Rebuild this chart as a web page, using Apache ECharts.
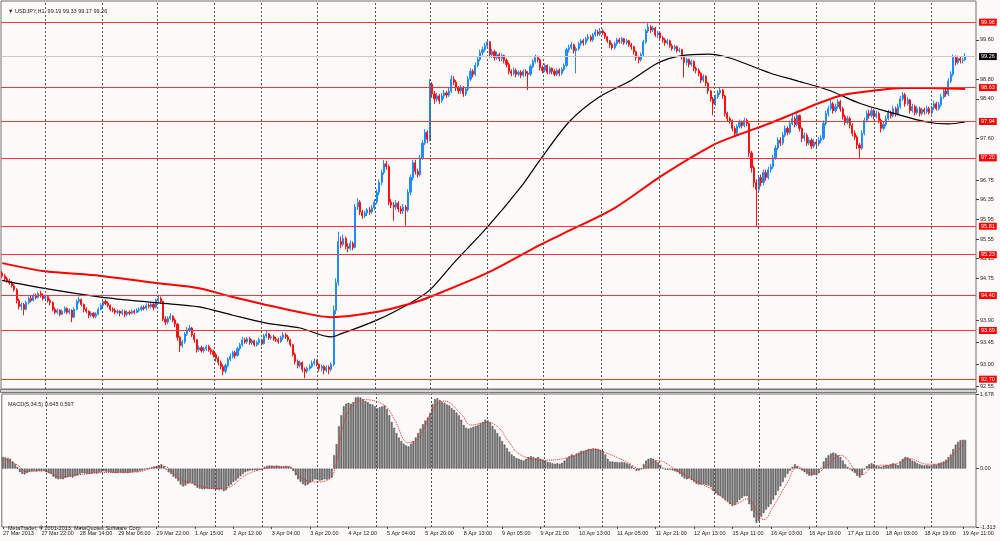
<!DOCTYPE html>
<html lang="en">
<head>
<meta charset="UTF-8">
<title>USDJPY,H1</title>
<style>
  html, body { margin: 0; padding: 0; background: #fffafa; }
  #chart { width: 1000px; height: 541px; }
</style>
</head>
<body>
<div id="chart"></div>
<script src="https://cdn.jsdelivr.net/npm/echarts@6/dist/echarts.min.js"></script>
<script>
// time labels on the bottom axis, one every 16 hourly bars
var timeLabels = ['27 Mar 2013', '27 Mar 22:00', '28 Mar 14:00', '29 Mar 06:00', '29 Mar 22:00',
  '1 Apr 15:00', '2 Apr 12:00', '3 Apr 04:00', '3 Apr 20:00', '4 Apr 12:00', '5 Apr 04:00',
  '5 Apr 20:00', '8 Apr 13:00', '9 Apr 05:00', '9 Apr 21:00', '10 Apr 13:00', '11 Apr 05:00',
  '11 Apr 21:00', '12 Apr 13:00', '15 Apr 11:00', '16 Apr 03:00', '16 Apr 19:00', '17 Apr 11:00',
  '18 Apr 03:00', '18 Apr 19:00', '19 Apr 11:00'];

// H1 candles: each bar opens where the previous one closed
var firstOpen = 94.86;
var closes = [
  94.80,94.74,94.70,94.66,94.60,94.52,94.30,94.18,94.22,94.12,
  94.26,94.34,94.30,94.40,94.36,94.44,94.40,94.34,94.38,94.30,
  94.26,94.12,94.06,94.10,94.02,94.08,94.14,94.06,94.10,93.96,
  94.12,94.28,94.32,94.22,94.12,94.08,94.00,94.04,93.98,94.02,
  94.12,94.20,94.28,94.24,94.20,94.12,94.10,94.06,94.08,94.04,
  94.08,94.02,94.06,94.04,94.08,94.06,94.10,94.12,94.16,94.14,
  94.20,94.18,94.22,94.16,94.30,94.34,94.28,93.92,93.86,93.94,
  93.98,93.90,93.82,93.55,93.38,93.46,93.62,93.70,93.74,93.60,
  93.50,93.30,93.34,93.28,93.32,93.36,93.30,93.26,93.20,93.12,
  93.04,92.96,92.86,92.98,93.10,93.16,93.24,93.18,93.32,93.40,
  93.50,93.46,93.52,93.44,93.48,93.40,93.44,93.50,93.42,93.58,
  93.62,93.54,93.56,93.52,93.50,93.46,93.54,93.60,93.56,93.50,
  93.40,93.20,93.06,92.98,93.04,92.90,92.86,92.92,92.96,93.02,
  93.06,93.00,92.92,92.96,92.88,92.94,92.90,93.00,94.10,94.66,
  95.50,95.44,95.56,95.40,95.36,95.46,95.38,96.20,96.30,96.10,
  96.02,96.08,96.14,96.10,96.18,96.30,96.50,96.70,96.90,97.08,
  97.02,96.30,96.24,96.20,96.28,96.16,96.12,96.20,96.14,96.50,
  96.80,97.10,96.92,96.86,97.20,97.50,97.72,97.58,98.70,98.50,
  98.40,98.46,98.36,98.46,98.52,98.48,98.56,98.80,98.74,98.62,
  98.56,98.62,98.50,98.60,98.80,98.96,98.90,99.08,99.20,99.34,
  99.40,99.48,99.56,99.30,99.36,99.24,99.30,99.22,99.28,99.18,
  99.10,98.96,98.92,98.98,98.90,98.94,98.88,98.96,98.92,98.90,
  99.06,99.16,99.24,99.20,99.04,98.98,99.08,98.94,99.02,98.96,
  98.90,98.98,98.92,99.00,99.08,99.40,99.44,99.50,99.38,99.42,
  99.52,99.58,99.54,99.62,99.66,99.60,99.70,99.76,99.72,99.78,
  99.74,99.66,99.58,99.50,99.44,99.52,99.60,99.56,99.62,99.54,
  99.58,99.50,99.46,99.36,99.24,99.20,99.30,99.56,99.78,99.86,
  99.80,99.84,99.70,99.74,99.64,99.60,99.54,99.58,99.48,99.42,
  99.46,99.38,99.40,99.26,99.14,99.20,99.10,99.16,99.02,98.98,
  98.92,98.78,98.86,98.72,98.56,98.40,98.30,98.44,98.52,98.58,
  98.46,98.10,98.00,97.96,97.80,97.70,97.84,97.92,97.86,97.96,
  97.90,97.30,97.00,96.70,96.56,96.80,96.70,96.90,96.80,96.96,
  97.02,97.20,97.40,97.56,97.50,97.66,97.80,97.72,97.90,98.00,
  97.88,98.06,97.80,97.60,97.66,97.50,97.56,97.44,97.52,97.48,
  97.56,97.60,97.90,98.10,98.20,98.30,98.16,98.24,98.34,98.20,
  98.04,97.92,98.00,97.86,97.70,97.62,97.46,97.40,97.70,97.96,
  98.10,98.06,98.16,98.04,98.10,97.96,97.80,97.88,98.00,98.12,
  98.06,98.20,98.10,98.24,98.40,98.48,98.30,98.38,98.16,98.24,
  98.12,98.20,98.10,98.18,98.14,98.20,98.12,98.22,98.30,98.20,
  98.28,98.44,98.56,98.50,98.76,98.90,99.24,99.14,99.22,99.18,
  99.19,99.26
];
var highs = [
  94.90,94.84,94.78,94.74,94.70,94.64,94.55,94.34,94.26,94.25,
  94.30,94.38,94.40,94.44,94.44,94.48,94.50,94.44,94.42,94.40,
  94.34,94.28,94.16,94.14,94.12,94.12,94.18,94.16,94.14,94.12,
  94.16,94.32,94.38,94.34,94.24,94.16,94.10,94.08,94.06,94.06,
  94.16,94.24,94.32,94.32,94.28,94.22,94.16,94.14,94.12,94.10,
  94.12,94.10,94.10,94.10,94.12,94.12,94.14,94.16,94.20,94.20,
  94.24,94.24,94.26,94.26,94.34,94.40,94.38,94.30,93.98,93.98,
  94.04,94.00,93.94,93.84,93.58,93.50,93.66,93.76,93.80,93.76,
  93.64,93.52,93.38,93.38,93.36,93.40,93.40,93.34,93.30,93.24,
  93.16,93.08,93.00,93.02,93.14,93.22,93.28,93.28,93.36,93.44,
  93.56,93.54,93.56,93.56,93.52,93.50,93.48,93.54,93.52,93.62,
  93.68,93.64,93.60,93.60,93.56,93.54,93.58,93.66,93.64,93.60,
  93.52,93.42,93.24,93.10,93.08,93.06,92.94,92.96,93.00,93.08,
  93.12,93.10,93.02,93.00,92.98,92.98,92.98,93.04,94.20,94.75,
  95.70,95.60,95.64,95.60,95.46,95.52,95.50,96.26,96.38,96.34,
  96.14,96.12,96.18,96.20,96.24,96.36,96.56,96.76,96.96,97.16,
  97.14,97.06,96.36,96.30,96.34,96.32,96.22,96.26,96.24,96.56,
  96.86,97.16,97.16,96.98,97.26,97.56,97.78,97.76,98.80,98.74,
  98.56,98.52,98.50,98.52,98.58,98.56,98.62,98.88,98.86,98.78,
  98.66,98.68,98.66,98.64,98.86,99.02,99.00,99.14,99.26,99.40,
  99.46,99.54,99.62,99.58,99.42,99.40,99.36,99.34,99.32,99.30,
  99.22,99.14,99.00,99.04,99.02,98.98,98.98,99.00,99.00,98.96,
  99.10,99.20,99.30,99.28,99.22,99.08,99.12,99.10,99.06,99.04,
  99.00,99.02,99.02,99.04,99.12,99.44,99.50,99.56,99.52,99.46,
  99.56,99.62,99.62,99.66,99.72,99.70,99.74,99.82,99.80,99.84,
  99.82,99.76,99.68,99.60,99.54,99.56,99.64,99.64,99.66,99.64,
  99.62,99.60,99.54,99.48,99.38,99.28,99.34,99.60,99.82,99.94,
  99.90,99.88,99.86,99.78,99.76,99.68,99.64,99.62,99.60,99.52,
  99.50,99.48,99.44,99.42,99.28,99.24,99.22,99.20,99.18,99.06,
  99.02,98.94,98.90,98.88,98.74,98.58,98.44,98.48,98.58,98.64,
  98.60,98.48,98.14,98.04,97.98,97.84,97.88,97.98,97.96,98.02,
  98.00,97.92,97.34,97.04,96.76,96.86,96.86,96.96,96.96,97.02,
  97.08,97.26,97.46,97.62,97.62,97.72,97.86,97.84,97.96,98.08,
  98.04,98.12,98.08,97.82,97.72,97.70,97.62,97.60,97.58,97.56,
  97.62,97.66,97.96,98.16,98.26,98.38,98.34,98.30,98.40,98.38,
  98.24,98.08,98.06,98.04,97.90,97.76,97.66,97.50,97.76,98.02,
  98.16,98.18,98.22,98.20,98.16,98.14,98.00,97.94,98.06,98.18,
  98.16,98.26,98.24,98.30,98.46,98.54,98.52,98.44,98.40,98.30,
  98.28,98.26,98.24,98.22,98.22,98.26,98.24,98.26,98.36,98.34,
  98.34,98.50,98.62,98.60,98.82,98.96,99.30,99.28,99.28,99.26,
  99.24,99.33
];
var lows = [
  94.76,94.70,94.66,94.62,94.56,94.48,94.24,94.12,94.10,94.00,
  94.10,94.22,94.26,94.28,94.32,94.34,94.36,94.30,94.30,94.26,
  94.20,94.08,94.02,94.02,93.98,94.00,94.04,94.02,94.02,93.86,
  93.94,94.10,94.24,94.18,94.06,94.04,93.94,93.96,93.94,93.94,
  94.00,94.10,94.16,94.20,94.16,94.08,94.06,94.02,94.02,93.98,
  94.00,93.96,93.98,94.00,94.02,94.02,94.04,94.06,94.08,94.10,
  94.10,94.14,94.14,94.10,94.14,94.26,94.24,93.88,93.80,93.82,
  93.90,93.86,93.76,93.48,93.25,93.34,93.42,93.58,93.66,93.56,
  93.44,93.24,93.26,93.24,93.24,93.28,93.26,93.20,93.14,93.06,
  92.98,92.90,92.78,92.82,92.94,93.06,93.12,93.12,93.16,93.28,
  93.36,93.42,93.42,93.40,93.40,93.36,93.36,93.40,93.38,93.40,
  93.54,93.50,93.50,93.48,93.46,93.42,93.44,93.50,93.52,93.46,
  93.36,93.16,93.00,92.92,92.94,92.84,92.72,92.82,92.88,92.92,
  92.98,92.96,92.86,92.86,92.80,92.84,92.80,92.86,92.96,94.02,
  94.60,95.36,95.40,95.34,95.28,95.32,95.32,95.36,96.14,96.04,
  95.96,95.98,96.02,96.04,96.06,96.14,96.26,96.44,96.64,96.86,
  96.96,96.24,96.18,95.92,96.14,96.10,96.06,96.06,95.82,96.10,
  96.44,96.74,96.86,96.80,96.82,97.16,97.46,97.50,97.54,98.42,
  98.30,98.34,98.30,98.32,98.40,98.42,98.44,98.52,98.68,98.56,
  98.50,98.50,98.44,98.46,98.56,98.76,98.84,98.86,99.04,99.16,
  99.28,99.36,99.44,99.24,99.24,99.18,99.20,99.16,99.16,99.12,
  99.04,98.90,98.86,98.88,98.84,98.86,98.82,98.84,98.86,98.58,
  98.86,99.02,99.12,99.14,98.98,98.92,98.94,98.90,98.90,98.90,
  98.86,98.86,98.86,98.88,98.96,99.04,99.34,99.40,99.32,98.92,
  99.38,99.48,99.48,99.50,99.58,99.56,99.56,99.66,99.68,99.68,
  99.70,99.62,99.54,99.44,99.40,99.40,99.48,99.52,99.52,99.50,
  99.50,99.46,99.40,99.30,99.18,99.12,99.16,99.26,99.52,99.74,
  99.74,99.76,99.66,99.64,99.58,99.54,99.48,99.50,99.44,99.38,
  99.38,99.34,99.34,99.20,98.84,99.08,99.04,99.06,98.96,98.92,
  98.86,98.72,98.74,98.66,98.50,98.34,98.07,98.26,98.40,98.48,
  98.40,98.04,97.94,97.90,97.74,97.64,97.66,97.80,97.80,97.82,
  97.84,97.22,96.90,96.60,95.80,96.50,96.62,96.64,96.74,96.76,
  96.90,96.98,97.16,97.36,97.44,97.46,97.62,97.66,97.68,97.86,
  97.82,97.84,97.74,97.52,97.54,97.44,97.46,97.38,97.40,97.42,
  97.44,97.50,97.56,97.86,98.04,98.16,98.10,98.12,98.20,98.14,
  97.98,97.86,97.88,97.80,97.64,97.56,97.38,97.20,97.36,97.66,
  97.92,98.00,98.02,97.98,98.00,97.90,97.72,97.76,97.84,97.96,
  98.00,98.02,98.04,98.06,98.20,98.36,98.24,98.26,98.10,98.12,
  98.06,98.08,98.04,98.06,98.08,98.10,98.08,98.08,98.18,98.16,
  98.16,98.24,98.40,98.44,98.46,98.72,98.86,99.08,99.10,99.12,
  99.12,99.17
];

// moving averages, read at sample bars
var maBlackBars = [0, 17, 41, 65, 82, 96, 110, 124, 137, 141, 156, 170, 178, 188, 202, 216, 224,
  236, 248, 262, 273, 282, 294, 303, 320, 330, 344, 357, 371, 385, 394, 401];
var maBlackVals = [94.71, 94.55, 94.37, 94.25, 94.17, 94.00, 93.84, 93.74, 93.56, 93.62, 93.90, 94.25, 94.51, 95.06, 95.79, 96.61, 97.16,
  97.93, 98.42, 98.78, 99.13, 99.27, 99.31, 99.23, 98.92, 98.78, 98.58, 98.31, 98.11, 97.93, 97.89, 97.93];
var maRedBars = [0, 17, 41, 65, 82, 96, 110, 124, 137, 155, 171, 178, 202, 224, 234, 255, 275,
  296, 306, 320, 330, 340, 350, 365, 375, 385, 401];
var maRedVals = [95.06, 94.90, 94.80, 94.65, 94.55, 94.37, 94.21, 94.06, 93.96, 94.06, 94.25, 94.37, 94.86, 95.43, 95.67, 96.18, 96.85,
  97.46, 97.66, 97.91, 98.11, 98.31, 98.48, 98.58, 98.62, 98.62, 98.60];

// MACD(5,34,5) histogram per bar
var macd = [
  0.26,0.25,0.24,0.22,0.16,0.10,0.04,-0.08,-0.12,-0.13,
  -0.10,-0.07,-0.06,-0.05,-0.06,-0.05,-0.06,-0.05,-0.08,-0.10,
  -0.12,-0.18,-0.22,-0.24,-0.23,-0.24,-0.21,-0.19,-0.18,-0.20,
  -0.17,-0.15,-0.12,-0.10,-0.11,-0.12,-0.12,-0.11,-0.10,-0.11,
  -0.09,-0.07,-0.06,-0.07,-0.08,-0.09,-0.09,-0.10,-0.10,-0.09,
  -0.10,-0.09,-0.10,-0.09,-0.08,-0.07,-0.07,-0.05,-0.04,-0.02,
  0.00,0.02,0.03,0.05,0.06,0.08,0.10,0.06,-0.02,-0.08,
  -0.12,-0.18,-0.22,-0.28,-0.36,-0.40,-0.38,-0.34,-0.32,-0.33,
  -0.38,-0.43,-0.45,-0.46,-0.46,-0.45,-0.46,-0.46,-0.46,-0.47,
  -0.48,-0.47,-0.51,-0.48,-0.40,-0.36,-0.30,-0.27,-0.22,-0.17,
  -0.12,-0.08,-0.06,-0.04,-0.04,-0.03,-0.04,-0.03,-0.02,0.04,
  0.06,0.07,0.07,0.06,0.07,0.06,0.05,0.05,0.06,0.05,
  0.03,-0.05,-0.15,-0.24,-0.30,-0.35,-0.38,-0.36,-0.32,-0.28,
  -0.24,-0.25,-0.27,-0.26,-0.24,-0.25,-0.23,-0.20,0.30,0.55,
  0.95,1.20,1.40,1.46,1.48,1.46,1.50,1.60,1.61,1.60,
  1.56,1.52,1.50,1.46,1.44,1.40,1.36,1.38,1.40,1.42,
  1.34,1.20,1.05,0.92,0.80,0.70,0.62,0.56,0.52,0.50,
  0.56,0.62,0.70,0.80,0.90,1.00,1.08,1.15,1.25,1.45,
  1.56,1.58,1.54,1.50,1.48,1.44,1.42,1.36,1.32,1.26,
  1.20,1.10,0.98,0.92,0.90,0.92,0.94,0.96,0.98,1.02,
  1.05,1.10,1.08,1.04,0.96,0.88,0.80,0.72,0.62,0.54,
  0.46,0.38,0.32,0.28,0.24,0.22,0.20,0.18,0.22,0.26,
  0.28,0.26,0.24,0.26,0.22,0.20,0.18,0.15,0.14,0.12,
  0.11,0.12,0.11,0.13,0.18,0.24,0.28,0.32,0.30,0.34,
  0.36,0.40,0.40,0.42,0.44,0.44,0.46,0.45,0.44,0.42,
  0.40,0.32,0.22,0.16,0.16,0.15,0.15,0.14,0.15,0.14,
  0.12,0.10,0.06,0.00,-0.05,-0.04,0.00,0.10,0.18,0.22,
  0.24,0.22,0.18,0.14,0.08,0.02,-0.02,-0.03,-0.02,-0.04,
  -0.06,-0.08,-0.12,-0.18,-0.22,-0.24,-0.22,-0.26,-0.30,-0.34,
  -0.36,-0.36,-0.35,-0.37,-0.38,-0.42,-0.50,-0.56,-0.60,-0.62,
  -0.66,-0.70,-0.74,-0.80,-0.84,-0.82,-0.76,-0.70,-0.66,-0.62,
  -0.62,-0.80,-0.95,-1.10,-1.22,-1.18,-1.08,-1.00,-0.92,-0.86,
  -0.80,-0.70,-0.60,-0.50,-0.40,-0.30,-0.20,-0.12,-0.05,0.04,
  0.10,0.06,0.00,-0.04,-0.08,-0.12,-0.16,-0.16,-0.14,-0.15,
  -0.10,0.02,0.16,0.24,0.30,0.34,0.36,0.34,0.30,0.26,
  0.18,0.10,0.04,-0.02,-0.06,-0.10,-0.16,-0.20,-0.14,-0.02,
  0.06,0.10,0.12,0.10,0.06,0.05,0.04,0.06,0.08,0.07,
  0.10,0.12,0.10,0.08,0.16,0.22,0.26,0.25,0.22,0.18,
  0.16,0.12,0.10,0.08,0.07,0.08,0.07,0.08,0.10,0.09,
  0.12,0.14,0.16,0.20,0.26,0.32,0.44,0.54,0.60,0.64,
  0.65,0.645
];
// signal line, read at sample bars
var signalBars = [0, 6, 10, 17, 24, 31, 41, 55, 63, 67, 74, 80, 88, 94, 101, 109, 119, 124, 130, 136,
  139, 141, 145, 151, 159, 163, 169, 173, 180, 184, 191, 195, 202, 207, 210, 216, 227, 238, 246, 252,
  260, 266, 273, 280, 288, 296, 305, 310, 317, 321, 327, 331, 338, 344, 349, 358, 363, 371, 378, 385,
  391, 396, 401];
var signalVals = [0.22, 0.08, -0.07, -0.05, -0.19, -0.14, -0.09, -0.08, 0.02, 0.05, -0.24, -0.35, -0.45, -0.42, -0.15, 0.00, 0.05, -0.20, -0.30, -0.24,
  0.15, 0.80, 1.38, 1.55, 1.42, 1.12, 0.58, 0.68, 1.40, 1.52, 1.22, 0.98, 1.04, 0.90, 0.66, 0.30, 0.19, 0.28, 0.43, 0.34,
  0.15, -0.01, 0.18, -0.01, -0.26, -0.48, -0.80, -0.68, -1.15, -0.85, -0.30, 0.04, -0.12, 0.10, 0.30, -0.14, 0.06, 0.09, 0.22, 0.10,
  0.10, 0.30, 0.597];

// horizontal levels and current bid
var levels = [99.96, 98.63, 97.94, 97.20, 95.81, 95.23, 94.40, 93.69, 92.70];
var bid = 99.26;
var priceTicks = [99.60, 98.80, 98.40, 97.60, 96.75, 96.35, 95.95, 95.55, 95.15, 94.75, 93.90, 93.45, 93.00, 92.55];
var macdTicks = [1.678, 0, -1.313];
// day separators (bar positions of the dotted verticals)
var dayLines = [18, 41.5, 64.6, 88.5, 108, 131, 155.4, 178.3, 202, 225.5, 249.6, 273.5, 296.4, 315, 339, 363, 387];

var SLOTS = 406;
var slots = [];
for (var s = 0; s < SLOTS; s++) slots.push(s);

var candles = closes.map(function (c, i) {
  var o = i === 0 ? firstOpen : closes[i - 1];
  return [o, c, lows[i], highs[i]];
});
function pairs(xs, ys) { return xs.map(function (x, i) { return [x, ys[i]]; }); }
var labelSlots = timeLabels.map(function (t, k) { return k * 16; });

var FONT = 'Liberation Sans';
var txt = { fontSize: 5.5, color: '#222', fontFamily: FONT };

var dom = document.getElementById('chart');
var myChart = echarts.init(dom);
var option = {
  backgroundColor: '#fffafa',
  animation: false,
  title: [
    { text: '\u25BC USDJPY,H1  99.19 99.33 99.17 99.26', left: 3, top: 3, textStyle: Object.assign({ fontWeight: 'normal' }, txt) },
    { text: 'MACD(5,34,5) 0.645 0.597', left: 3, top: 396, textStyle: Object.assign({ fontWeight: 'normal' }, txt) },
    { text: 'MetaTrader, \u00A9 2001-2013, MetaQuotes Software Corp.', left: 3, top: 520, textStyle: Object.assign({ fontWeight: 'normal' }, txt) }
  ],
  grid: [
    { left: 1, right: 24, top: 1, height: 388, show: true, borderColor: '#707070', borderWidth: 1, backgroundColor: 'transparent' },
    { left: 1, right: 24, top: 394, height: 133, show: true, borderColor: '#707070', borderWidth: 1, backgroundColor: 'transparent' }
  ],
  xAxis: [
    { type: 'category', gridIndex: 0, data: slots, show: false, axisLine: { onZero: false } },
    { type: 'value', gridIndex: 0, min: -0.5, max: SLOTS - 0.5, show: false, axisLine: { onZero: false } },
    { type: 'category', gridIndex: 1, data: slots, show: false, axisLine: { onZero: false } },
    {
      type: 'value', gridIndex: 1, min: -0.5, max: SLOTS - 0.5, position: 'bottom',
      axisLine: { show: false, onZero: false }, splitLine: { show: false },
      axisTick: { show: true, customValues: labelSlots, length: 2, lineStyle: { color: '#444' } },
      axisLabel: Object.assign({
        customValues: labelSlots, align: 'left', margin: 3,
        formatter: function (v) { return timeLabels[Math.round(v / 16)]; }
      }, txt)
    }
  ],
  yAxis: [
    {
      type: 'value', gridIndex: 0, position: 'right', min: 92.50, max: 100.39,
      axisLine: { show: false, onZero: false }, splitLine: { show: false },
      axisTick: { show: true, customValues: priceTicks, length: 3, lineStyle: { color: '#444' } },
      axisLabel: Object.assign({ customValues: priceTicks, margin: 4, formatter: function (v) { return v.toFixed(2); } }, txt)
    },
    {
      type: 'value', gridIndex: 1, position: 'right', min: -1.313, max: 1.678,
      axisLine: { show: false, onZero: false }, splitLine: { show: false },
      axisTick: { show: true, customValues: macdTicks, length: 3, lineStyle: { color: '#444' } },
      axisLabel: Object.assign({
        customValues: macdTicks, margin: 4,
        formatter: function (v) { return v === 0 ? '0.00' : v.toFixed(3); }
      }, txt)
    }
  ],
  graphic: [
    { type: 'rect', left: 0, top: 389, shape: { width: 976, height: 3 }, style: { fill: '#d4d4d4', stroke: '#7a7a7a', lineWidth: 1 }, z: 100 }
  ],
  series: [
    {
      type: 'line', xAxisIndex: 1, yAxisIndex: 0, data: [], silent: true, z: 1,
      markLine: {
        silent: true, symbol: 'none', animation: false, label: { show: false },
        lineStyle: { color: '#555', width: 1, type: [2, 2] },
        data: dayLines.map(function (v) { return { xAxis: v }; })
      }
    },
    {
      type: 'line', xAxisIndex: 3, yAxisIndex: 1, data: [], silent: true, z: 1,
      markLine: {
        silent: true, symbol: 'none', animation: false, label: { show: false },
        lineStyle: { color: '#555', width: 1, type: [2, 2] },
        data: dayLines.map(function (v) { return { xAxis: v }; })
      }
    },
    {
      type: 'candlestick', xAxisIndex: 0, yAxisIndex: 0, data: candles, z: 3,
      barWidth: 1.6,
      itemStyle: { color: '#1e8cff', color0: '#ff1010', borderColor: '#1e8cff', borderColor0: '#ff1010', borderWidth: 1 },
      markLine: {
        silent: true, symbol: 'none', animation: false,
        lineStyle: { color: '#ff3333', width: 1, type: 'solid' },
        label: {
          position: 'end', distance: 3, color: '#fff', backgroundColor: '#ff0000',
          fontSize: 5.5, fontFamily: FONT, padding: [1, 2, 0, 2],
          formatter: function (p) { return p.value.toFixed(2); }
        },
        data: levels.map(function (v) { return { yAxis: v }; }).concat([
          { yAxis: bid, lineStyle: { color: '#c8c8c8' }, label: { backgroundColor: '#000000' } }
        ])
      }
    },
    {
      type: 'line', xAxisIndex: 1, yAxisIndex: 0, data: pairs(maBlackBars, maBlackVals), z: 4,
      smooth: 0.3, showSymbol: false, lineStyle: { color: '#000', width: 1.2 }
    },
    {
      type: 'line', xAxisIndex: 1, yAxisIndex: 0, data: pairs(maRedBars, maRedVals), z: 4,
      smooth: 0.3, showSymbol: false, lineStyle: { color: '#ff0000', width: 2 }
    },
    {
      type: 'bar', xAxisIndex: 2, yAxisIndex: 1, data: macd, z: 3, barWidth: 1.8,
      itemStyle: { color: '#7c7c7c', borderColor: '#454545', borderWidth: 0.5 }
    },
    {
      type: 'line', xAxisIndex: 3, yAxisIndex: 1, data: pairs(signalBars, signalVals), z: 4,
      smooth: 0.4, showSymbol: false, lineStyle: { color: '#ff2020', width: 1, type: 'dotted' }
    }
  ]
};
if (option && typeof option === 'object') {
  myChart.setOption(option, true);
}
</script>
</body>
</html>
